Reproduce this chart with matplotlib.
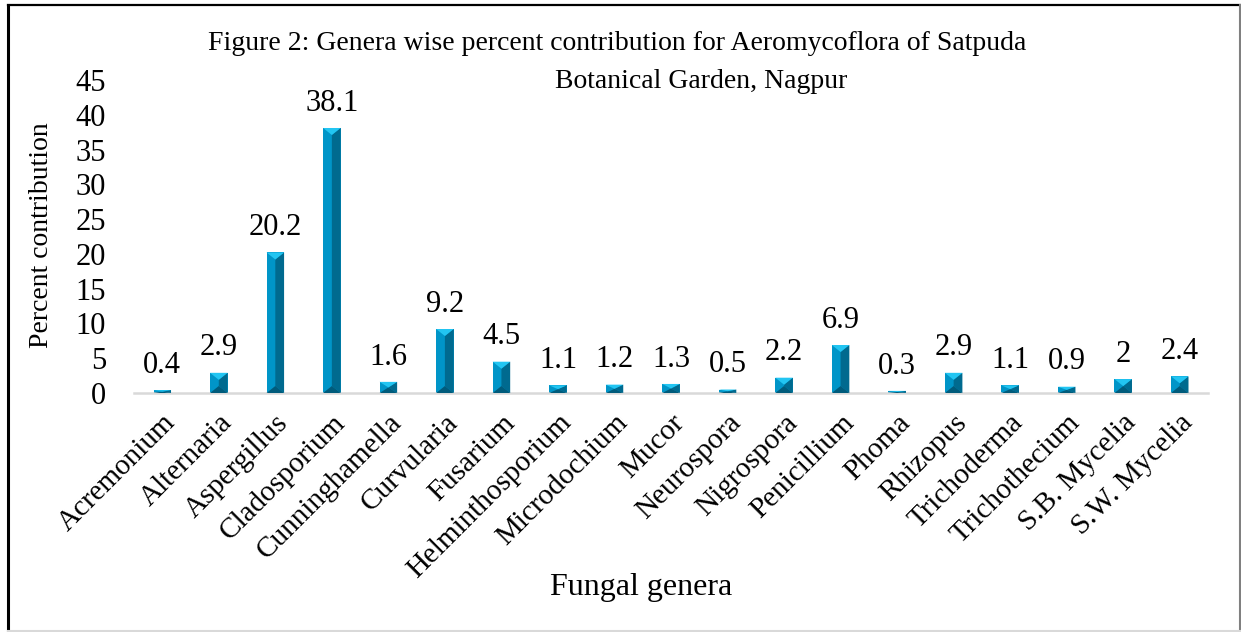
import matplotlib.pyplot as plt
from matplotlib.lines import Line2D
from matplotlib.patches import Polygon

# data
genera = ['Acremonium', 'Alternaria', 'Aspergillus', 'Cladosporium', 'Cunninghamella',
          'Curvularia', 'Fusarium', 'Helminthosporium', 'Microdochium', 'Mucor',
          'Neurospora', 'Nigrospora', 'Penicillium', 'Phoma', 'Rhizopus',
          'Trichoderma', 'Trichothecium', 'S.B. Mycelia', 'S.W. Mycelia']
percent = [0.4, 2.9, 20.2, 38.1, 1.6, 9.2, 4.5, 1.1, 1.2, 1.3,
           0.5, 2.2, 6.9, 0.3, 2.9, 1.1, 0.9, 2, 2.4]
labels = ['0.4', '2.9', '20.2', '38.1', '1.6', '9.2', '4.5', '1.1', '1.2', '1.3',
          '0.5', '2.2', '6.9', '0.3', '2.9', '1.1', '0.9', '2', '2.4']
yticks = [0, 5, 10, 15, 20, 25, 30, 35, 40, 45]

plt.rcParams['font.family'] = ['Liberation Serif', 'DejaVu Serif']

W, H = 1241, 632
fig = plt.figure(figsize=(W / 100, H / 100), dpi=100)
ax = fig.add_axes([134 / W, 1 - 393 / H, (1208 - 134) / W, (393 - 80) / H])

x = list(range(len(genera)))
bw = 0.31
bars = ax.bar(x, percent, width=bw, color='#0095C8', zorder=2)

ax.set_xlim(-0.5, len(genera) - 0.5)
ax.set_ylim(0, 45)

# bevel faces for each bar (Excel "angle" style)
px_per_unit = (393 - 80) / 45
bev = 7 / px_per_unit
for b in bars:
    x0 = b.get_x()
    x1 = x0 + b.get_width()
    xc = (x0 + x1) / 2
    h = b.get_height()
    d = min(bev, h / 2)
    ax.add_patch(Polygon([(x1, 0), (xc, d), (xc, h - d), (x1, h)], closed=True,
                         facecolor='#006A8F', edgecolor='none', zorder=3))
    ax.add_patch(Polygon([(x0, 0), (x1, 0), (xc, d)], closed=True,
                         facecolor='#005B7B', edgecolor='none', zorder=3))
    ax.add_patch(Polygon([(x0, h), (x1, h), (xc, h - d)], closed=True,
                         facecolor='#22C5F2', edgecolor='none', zorder=3))

for xi, v, lab in zip(x, percent, labels):
    ax.annotate(lab, (xi, v), xytext=(0, 12.5), textcoords='offset points',
                ha='center', va='baseline', fontsize=22)

ax.set_yticks(yticks)
ax.set_yticklabels([str(t) for t in yticks], fontsize=22)
ax.set_xticks(x)
ax.set_xticklabels(genera, rotation=45, ha='right', rotation_mode='anchor', fontsize=21)
ax.tick_params(axis='y', length=0, pad=20)
ax.tick_params(axis='x', length=0, pad=12)

for s in ['top', 'right', 'left']:
    ax.spines[s].set_visible(False)
ax.spines['bottom'].set_color('#D9D9D9')
ax.spines['bottom'].set_linewidth(1.8)

fig.text(617 / W, 1 - 43 / H,
         'Figure 2: Genera wise percent contribution for Aeromycoflora of Satpuda',
         ha='center', va='center', fontsize=20)
fig.text(701 / W, 1 - 81 / H, 'Botanical Garden, Nagpur',
         ha='center', va='center', fontsize=20)
fig.text(641 / W, 1 - 588 / H, 'Fungal genera', ha='center', va='center', fontsize=23)
fig.text(42 / W, 1 - 235 / H, 'Percent contribution', ha='center', va='center',
         rotation=90, fontsize=20)

# outer frame
fig.add_artist(Line2D([8 / W, 8 / W], [0, 1 - 5 / H], color='black', lw=2.2))
fig.add_artist(Line2D([8 / W, 1240 / W], [1 - 5 / H, 1 - 5 / H], color='black', lw=1.6))
fig.add_artist(Line2D([1239.5 / W, 1239.5 / W], [0, 1 - 5 / H], color='#808080', lw=1.5))
fig.add_artist(Line2D([8 / W, 1240 / W], [0.6 / H, 0.6 / H], color='#D9D9D9', lw=1.5))

fig.savefig('out.png', dpi=100)
